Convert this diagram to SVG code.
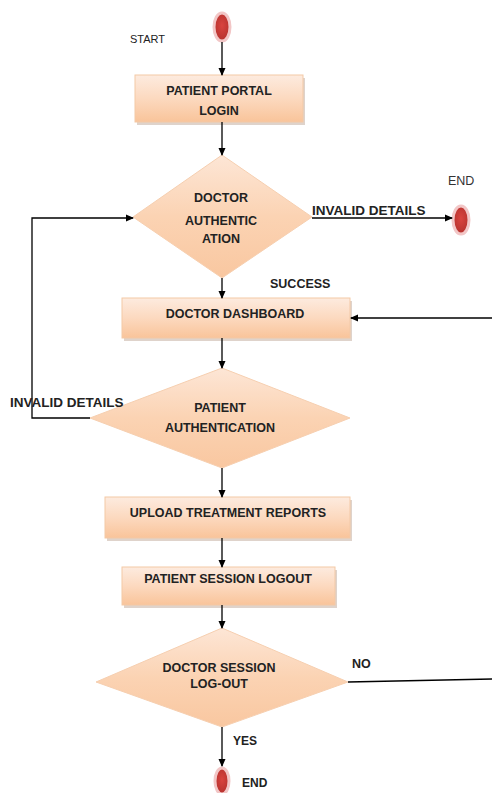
<svg xmlns="http://www.w3.org/2000/svg" width="492" height="793" viewBox="0 0 492 793">
<defs>
<linearGradient id="boxg" x1="0" y1="0" x2="0" y2="1">
<stop offset="0" stop-color="#fdebdf"/>
<stop offset="0.5" stop-color="#fcd9bf"/>
<stop offset="1" stop-color="#f9c49a"/>
</linearGradient>
<linearGradient id="diag" x1="0" y1="0" x2="0" y2="1">
<stop offset="0" stop-color="#fde6d6"/>
<stop offset="0.5" stop-color="#fbd3b3"/>
<stop offset="1" stop-color="#f9c7a0"/>
</linearGradient>
<radialGradient id="endg" cx="0.5" cy="0.45" r="0.6">
<stop offset="0" stop-color="#d9443f"/>
<stop offset="1" stop-color="#b2302c"/>
</radialGradient>
<marker id="arr" markerWidth="8" markerHeight="8" refX="7" refY="4" orient="auto" markerUnits="userSpaceOnUse">
<path d="M0,0.5 L8,4 L0,7.5 Z" fill="#000"/>
</marker>
</defs>
<style>
.box{fill:url(#boxg);stroke:#f3c9a6;stroke-width:1}
.shadow{fill:#c9b6a8;opacity:0.6}
.dia{fill:url(#diag);stroke:#f6cfb0;stroke-width:1}
.term{fill:url(#endg);stroke:#f2c6c6;stroke-width:3}
.t{font-family:"Liberation Sans",Arial,sans-serif;font-weight:bold;font-size:12.5px;fill:#222;text-anchor:middle}
.lbl{font-family:"Liberation Sans",Arial,sans-serif;font-weight:bold;font-size:13.5px;fill:#222}
.sm{font-family:"Liberation Sans",Arial,sans-serif;font-size:11px;fill:#222}
.ln{fill:none;stroke:#000;stroke-width:1.3}
</style>

<g id="start">
<ellipse class="term" cx="222" cy="27" rx="8" ry="14"/>
<text class="sm" x="130" y="43">START</text>
</g>

<g id="patient-portal-login">
<rect class="shadow" x="137" y="78" width="168" height="47"/>
<rect class="box" x="135" y="75" width="168" height="47"/>
<text class="t" x="219" y="95">PATIENT PORTAL</text>
<text class="t" x="219" y="115">LOGIN</text>
</g>

<g id="doctor-authentication">
<polygon class="dia" points="222,155 312,217 222,278 133,217"/>
<text class="t" x="221" y="202">DOCTOR</text>
<text class="t" x="221" y="225">AUTHENTIC</text>
<text class="t" x="221" y="243">ATION</text>
</g>

<g id="end-top">
<ellipse class="term" cx="461" cy="220" rx="8" ry="14"/>
<text class="sm" x="448" y="185" style="font-size:12.5px;fill:#333">END</text>
</g>

<g id="doctor-dashboard">
<rect class="shadow" x="124" y="301" width="228" height="40"/>
<rect class="box" x="122" y="298" width="228" height="40"/>
<text class="t" x="235" y="318">DOCTOR DASHBOARD</text>
</g>

<g id="patient-authentication">
<polygon class="dia" points="222,368 350,418 222,468 90,418"/>
<text class="t" x="220" y="412">PATIENT</text>
<text class="t" x="220" y="432">AUTHENTICATION</text>
</g>

<g id="upload-treatment-reports">
<rect class="shadow" x="107" y="500" width="245" height="41"/>
<rect class="box" x="105" y="497" width="245" height="41"/>
<text class="t" x="228" y="517">UPLOAD TREATMENT REPORTS</text>
</g>

<g id="patient-session-logout">
<rect class="shadow" x="124" y="570" width="213" height="38"/>
<rect class="box" x="122" y="567" width="213" height="38"/>
<text class="t" x="228" y="583">PATIENT SESSION LOGOUT</text>
</g>

<g id="doctor-session-logout">
<polygon class="dia" points="222,628 348,682 222,727 96,682"/>
<text class="t" x="219" y="672">DOCTOR SESSION</text>
<text class="t" x="219" y="688">LOG-OUT</text>
</g>

<g id="end-bottom">
<ellipse class="term" cx="222" cy="781" rx="7" ry="13"/>
<text class="lbl" x="242" y="787" style="font-size:12px">END</text>
</g>

<g id="connectors">
<line class="ln" x1="222" y1="42" x2="222" y2="75" marker-end="url(#arr)"/>
<line class="ln" x1="222" y1="122" x2="222" y2="155" marker-end="url(#arr)"/>
<line class="ln" x1="312" y1="218" x2="452" y2="218" marker-end="url(#arr)"/>
<line class="ln" x1="222" y1="278" x2="222" y2="298" marker-end="url(#arr)"/>
<line class="ln" x1="222" y1="338" x2="222" y2="368" marker-end="url(#arr)"/>
<polyline class="ln" points="90,418 32,418 32,218 133,218" marker-end="url(#arr)"/>
<line class="ln" x1="492" y1="318" x2="351" y2="318" marker-end="url(#arr)"/>
<line class="ln" x1="222" y1="468" x2="222" y2="497" marker-end="url(#arr)"/>
<line class="ln" x1="222" y1="538" x2="222" y2="567" marker-end="url(#arr)"/>
<line class="ln" x1="222" y1="605" x2="222" y2="628" marker-end="url(#arr)"/>
<line class="ln" x1="348" y1="682" x2="492" y2="679"/>
<line class="ln" x1="222" y1="727" x2="222" y2="766" marker-end="url(#arr)"/>
<text class="lbl" x="312" y="215">INVALID DETAILS</text>
<text class="lbl" x="270" y="288" style="font-size:12.5px">SUCCESS</text>
<text class="lbl" x="10" y="407">INVALID DETAILS</text>
<text class="lbl" x="352" y="668" style="font-size:12.5px">NO</text>
<text class="lbl" x="233" y="745" style="font-size:12px">YES</text>
</g>
</svg>
